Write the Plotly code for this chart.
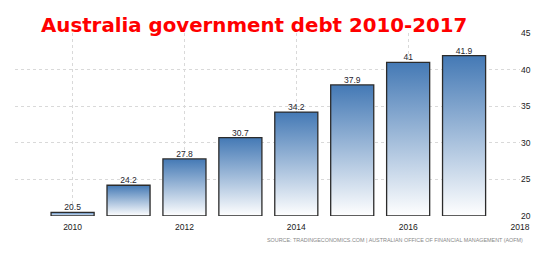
import plotly.graph_objects as go

years = [2010, 2011, 2012, 2013, 2014, 2015, 2016, 2017]
debt = [20.5, 24.2, 27.8, 30.7, 34.2, 37.9, 41.0, 41.9]
labels = ["20.5", "24.2", "27.8", "30.7", "34.2", "37.9", "41", "41.9"]
x_ticks = [2010, 2012, 2014, 2016, 2018]
y_ticks = [20, 25, 30, 35, 40, 45]
title = "Australia government debt 2010-2017"
source = "SOURCE: TRADINGECONOMICS.COM | AUSTRALIAN OFFICE OF FINANCIAL MANAGEMENT (AOFM)"

BASE = 20
HALF = 0.385

fig = go.Figure()
for yr, v in zip(years, debt):
    fig.add_trace(go.Scatter(
        x=[yr - HALF, yr + HALF, yr + HALF, yr - HALF, yr - HALF],
        y=[BASE, BASE, v, v, BASE],
        mode="lines", fill="toself",
        line=dict(color="#2b2b2b", width=1.3),
        fillgradient=dict(type="vertical",
                          colorscale=[[0, "#ffffff"], [1, "#4479b5"]]),
        hoverinfo="skip", showlegend=False,
    ))

fig.add_trace(go.Scatter(
    x=years, y=debt, mode="text", text=labels, textposition="top center",
    textfont=dict(family="Liberation Sans, Arial", size=8.5, color="#1e1e2e"),
    showlegend=False, hoverinfo="skip", cliponaxis=False,
))

grid = dict(showgrid=True, gridcolor="#d9d9d9", griddash="dot", gridwidth=1)
fig.update_xaxes(range=[2008.97, 2018], tickvals=x_ticks, zeroline=False,
                 showline=False, ticks="", ticklabelstandoff=4, **grid,
                 tickfont=dict(family="Liberation Sans, Arial", size=8.5, color="#1a1a1a"))
fig.update_yaxes(range=[20, 45], tickvals=y_ticks, side="right", zeroline=False,
                 showline=False, ticks="", **grid,
                 tickfont=dict(family="Liberation Sans, Arial", size=8.5, color="#1a1a1a"))

fig.add_annotation(text="<b>" + title + "</b>", xref="paper", yref="paper",
                   x=(39 - 15) / 505, y=(216 - 26) / 183,
                   xanchor="left", yanchor="middle", showarrow=False,
                   font=dict(family="DejaVu Sans", size=19.8, color="#ff0000"))
fig.add_annotation(text=source, xref="paper", yref="paper", x=1.01,
                   y=(216 - 239.5) / 183, xanchor="right", yanchor="middle",
                   showarrow=False,
                   font=dict(family="Liberation Sans, Arial", size=5.4, color="#888"))

fig.update_layout(
    width=560, height=261, margin=dict(l=15, r=40, t=33, b=45),
    paper_bgcolor="white", plot_bgcolor="white",
)
fig.write_html("out.html")
